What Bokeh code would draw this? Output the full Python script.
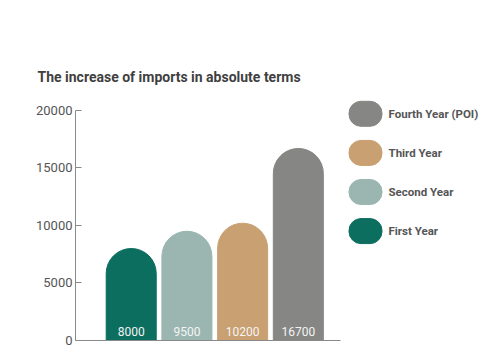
from bokeh.plotting import figure
from bokeh.layouts import row
from bokeh.models import ColumnDataSource, Range1d, FixedTicker
from bokeh.core.properties import value
from bokeh.embed import file_html
from bokeh.resources import INLINE

categories = ["First Year", "Second Year", "Third Year", "Fourth Year (POI)"]
values = [8000, 9500, 10200, 16700]
colors = ["#0b6e5f", "#9bb6b1", "#c9a071", "#868684"]
labels = [str(v) for v in values]
y_ticks = [0, 5000, 10000, 15000, 20000]

FONT = "Roboto"
xs = [i + 1 for i in range(len(categories))]
src = ColumnDataSource(dict(x=xs, top=values, color=colors, label=labels, cat=categories))

p = figure(width=345, height=356, output_backend="svg", toolbar_location=None,
           x_range=Range1d(0, 4.757), y_range=Range1d(0, 21304),
           min_border_left=75, min_border_right=5, min_border_bottom=16, min_border_top=95)
p.outline_line_color = None
p.grid.visible = False

p.vbar(x="x", top="top", bottom=0, width=0.898, color="color", source=src,
       border_radius=(25, 25, 0, 0))
p.text(x="x", y=0, text="label", source=src, text_align="center", text_baseline="alphabetic",
       y_offset=-9, text_color="#f4f4f4", text_font=value(FONT), text_font_size="12px")

p.yaxis.ticker = FixedTicker(ticks=y_ticks)
p.yaxis.bounds = (0, 20000)
p.yaxis.formatter.use_scientific = False
p.yaxis.major_tick_in = 6
p.yaxis.major_tick_out = 0
p.yaxis.minor_tick_line_color = None
p.yaxis.major_label_standoff = 3
p.yaxis.major_label_text_font = FONT
p.yaxis.major_label_text_font_size = "13px"
p.yaxis.major_label_text_color = "#555555"
p.axis.axis_line_color = "#8a8a8a"
p.yaxis.major_tick_line_color = "#8a8a8a"

p.xaxis.ticker = FixedTicker(ticks=[])
p.xaxis.major_label_text_font_size = "0px"
p.xaxis.minor_tick_line_color = None

p.title.text = "The increase of imports in absolute terms"
p.title.text_font = FONT
p.title.text_font_style = "bold"
p.title.text_font_size = "14px"
p.title.text_color = "#3f3f3f"
p.title.align = "left"
p.title.offset = -38
p.title.standoff = 22

# legend panel (its frame is aligned with the main frame by the row layout)
k = [len(categories) - 1 - i for i in range(len(categories))]
lsrc = ColumnDataSource(dict(k=k, color=colors, cat=categories))
lg = figure(width=155, height=356, output_backend="svg", toolbar_location=None,
            x_range=Range1d(0, 155), y_range=Range1d(5.798, -0.468),
            x_axis_type=None, y_axis_type=None, min_border=0)
lg.outline_line_color = None
lg.rect(x=20, y="k", width=33, height=25, width_units="screen", height_units="screen",
        color="color", source=lsrc, border_radius=12)
lg.text(x=43, y="k", text="cat", source=lsrc, text_baseline="middle", text_align="left",
        text_color="#555555", text_font=value(FONT), text_font_style="bold", text_font_size="11.5px")

layout = row(p, lg)
open("out.html", "w").write(file_html(layout, INLINE))
